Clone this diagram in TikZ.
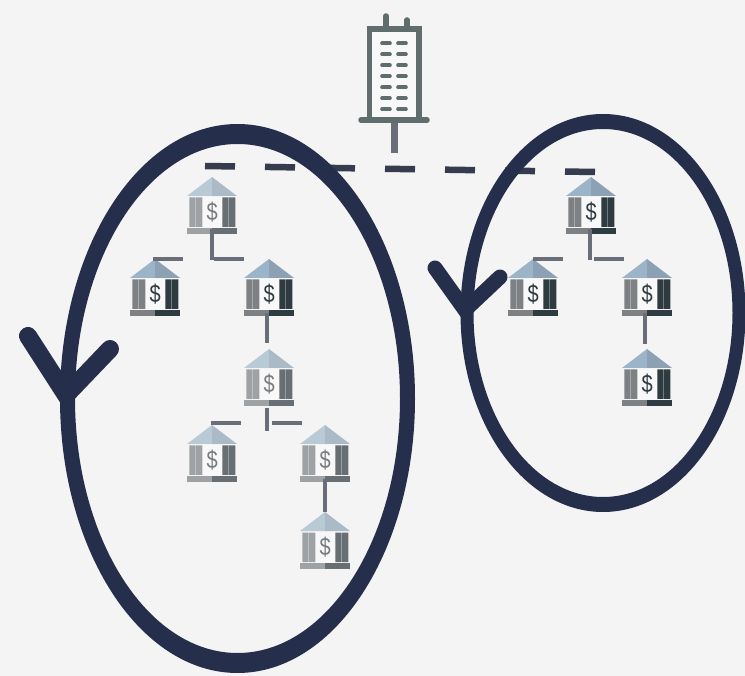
\documentclass[tikz,border=0pt]{standalone}
\usepackage{fontspec}
\setmainfont{Liberation Sans}
\usetikzlibrary{calc}
\definecolor{bgc}{HTML}{F4F4F4}
\definecolor{ringc}{HTML}{252E4A}
\definecolor{dashc}{HTML}{353C4D}
\definecolor{linkc}{HTML}{696E79}
\definecolor{towerc}{HTML}{5F6E6D}
\tikzset{
  x=1pt,y=-1pt,
  ring/.style={fill=ringc,draw=none,even odd rule},
  chevron/.style={draw=ringc,line cap=round,line join=miter},
  link/.style={draw=linkc,line width=4.2pt},
  cut/.style={draw=dashc,line width=6.5pt},
  towerline/.style={draw=towerc,line width=5.5pt,line cap=round},
  windowline/.style={draw=towerc,line width=3.6pt,line cap=round},
  banklight/.code={%
    \definecolor{roofL}{HTML}{B9CAD7}\definecolor{roofR}{HTML}{ABBAC7}%
    \definecolor{colL}{HTML}{9EA2A5}\definecolor{colR}{HTML}{676F74}%
    \definecolor{dol}{HTML}{767C80}},
  bankdark/.code={%
    \definecolor{roofL}{HTML}{9CB4C7}\definecolor{roofR}{HTML}{8CA1B3}%
    \definecolor{colL}{HTML}{7D8184}\definecolor{colR}{HTML}{2E3B40}%
    \definecolor{dol}{HTML}{2E3B40}},
  bank/.pic={
    \coordinate (-apex) at (0,0);
    \coordinate (-base) at (0,53);
    \fill[white!40!bgc] (-10,20) rectangle (10,51);
    \fill[roofL] (0,0) -- (-25,19) -- (0,19) -- cycle;
    \fill[roofR] (0,0) -- (25,19) -- (0,19) -- cycle;
    \fill[colL] (-22.7,20.5) rectangle (-16.4,50) (-15.8,20.5) rectangle (-9.7,50);
    \fill[colR] (10.3,20.5) rectangle (16.6,50) (17.2,20.5) rectangle (23.3,50);
    \fill[colL] (-25,51) rectangle (0,57);
    \fill[colR] (0,51) rectangle (25,57);
    \node[text=dol,font=\fontsize{25}{25}\selectfont,inner sep=0pt,xscale=0.8] (-sign) at (0.3,35) {\$};
  }
}
\begin{document}
\begin{tikzpicture}
\useasboundingbox (0,0) rectangle (745,676);
\fill[bgc] (0,0) rectangle (745,676);

% dashed cut line
\coordinate (cutA) at (205,166);
\coordinate (cutB) at (595,172);
\foreach \s in {0,60,...,360}
  \draw[cut] ($(cutA)+(\s,\s*6/390)$) -- ($(cutA)+(\s+30,{(\s+30)*6/390})$);

% tower
\coordinate (towerFoot) at (394,120);
\coordinate (towerEnd) at (394,153);
\fill[white!40!bgc] (369,29) rectangle (419,120);
\draw[draw=linkc,line width=7pt] (towerFoot) -- (towerEnd);
\draw[towerline] (386,16) -- (386,29);
\draw[towerline] (407,20) -- (407,29);
\draw[towerline,line cap=butt] (369.5,120) -- (369.5,29) -- (419,29) -- (419,120);
\draw[towerline] (361,120) -- (427,120);
\foreach \r in {0,...,6} {
  \draw[windowline] (382,{43.3+11*\r}) -- (390,{43.3+11*\r});
  \draw[windowline] (398,{43.3+11*\r}) -- (406,{43.3+11*\r});
}

% rings
\fill[ring] (237.5,398.5) ellipse [x radius=177.5,y radius=274.5]
            (237.5,398.5) ellipse [x radius=162.5,y radius=254.5];
\fill[ring] (603,313) ellipse [x radius=142.5,y radius=199]
            (603,313) ellipse [x radius=129.5,y radius=184];
\coordinate (hookLa) at (28,336);
\coordinate (hookLb) at (66,395);
\coordinate (hookLc) at (110,349);
\draw[chevron,line width=18pt] (hookLa) -- (hookLb) -- (hookLc);
\coordinate (hookRa) at (435,268);
\coordinate (hookRb) at (465,310);
\coordinate (hookRc) at (500,277);
\draw[chevron,line width=15pt] (hookRa) -- (hookRb) -- (hookRc);

% banks, left group
\pic[banklight] (a1) at (212,177) {bank};
\pic[bankdark]  (a2) at (155,259) {bank};
\pic[bankdark]  (a3) at (269,259) {bank};
\pic[banklight] (a4) at (269,349) {bank};
\pic[banklight] (a5) at (212,425) {bank};
\pic[banklight] (a6) at (325,425) {bank};
\pic[banklight] (a7) at (325,512) {bank};
% banks, right group
\pic[bankdark] (b1) at (591,177) {bank};
\pic[bankdark] (b2) at (533,259) {bank};
\pic[bankdark] (b3) at (647,259) {bank};
\pic[bankdark] (b4) at (647,349) {bank};

% connectors, left group
\draw[link] ($(a1-base)+(-0.3,-1)$) -- ($(a1-base)+(-0.3,30)$);
\draw[link] ($(a3-apex)+(-55,0)$) -- ($(a3-apex)+(-25,0)$);
\draw[link] ($(a2-apex)+(-2,0)$) -- ($(a2-apex)+(28,0)$);
\draw[link] ($(a3-base)+(-2,1)$) -- ($(a4-apex)+(-2,-6)$);
\draw[link] ($(a4-base)+(-2,6)$) -- ($(a4-base)+(-2,29)$);
\draw[link] ($(a5-apex)+(-1,-2)$) -- ($(a5-apex)+(29,-2)$);
\draw[link] ($(a6-apex)+(-53,-2)$) -- ($(a6-apex)+(-23,-2)$);
\draw[link] ($(a6-base)+(0,1)$) -- (a7-apex);
% connectors, right group
\draw[link] ($(b1-base)+(-1,-1)$) -- ($(b1-base)+(-1,30)$);
\draw[link] ($(b3-apex)+(-53,0)$) -- ($(b3-apex)+(-23,0)$);
\draw[link] ($(b2-apex)+(0,0)$) -- ($(b2-apex)+(30,0)$);
\draw[link] ($(b3-base)+(-2,1)$) -- ($(b4-apex)+(-2,-5)$);
\end{tikzpicture}
\end{document}
